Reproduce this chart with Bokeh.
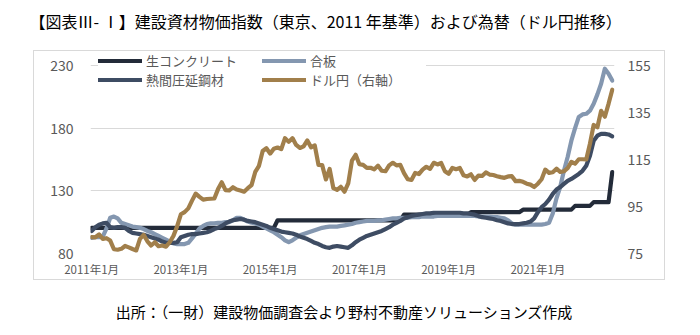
from bokeh.plotting import figure
from bokeh.layouts import column, row
from bokeh.models import (Range1d, LinearAxis, FixedTicker, Legend, LegendItem,
                          Label, Spacer)
from bokeh.embed import file_html
from bokeh.resources import INLINE

FONT = "Noto Sans CJK JP"

title_text = "【図表Ⅲ- Ⅰ】建設資材物価指数（東京、2011 年基準）および為替（ドル円推移）"
source_text = "出所：（一財）建設物価調査会より野村不動産ソリューションズ作成"

series_names = ["生コンクリート", "合板", "熱間圧延鋼材", "ドル円（右軸）"]

tick_months = [0, 24, 48, 72, 96, 120]
tick_labels = ["2011年1月", "2013年1月", "2015年1月", "2017年1月", "2019年1月", "2021年1月"]
left_ticks = [80, 130, 180, 230]
right_ticks = [75, 95, 115, 135, 155]

# monthly, 2011-01 .. 2022-09
concrete = [
    100.5, 100.5, 100.5, 100.5, 100.5, 100.5, 100.5, 100.5, 100.5, 100.5, 100.5, 100.5,
    100.5, 100.5, 100.5, 100.5, 100.5, 100.5, 100.5, 100.5, 100.5, 100.5, 100.5, 100.5,
    100.5, 100.5, 100.5, 100.5, 100.5, 100.5, 100.5, 100.5, 100.5, 100.5, 100.5, 100.5,
    100.5, 100.5, 100.5, 100.5, 100.5, 100.5, 100.5, 100.5, 100.5, 100.5, 100.5, 100.5,
    100.5, 100.5, 106.5, 106.5, 106.5, 106.5, 106.5, 106.5, 106.5, 106.5, 106.5, 106.5,
    106.5, 106.5, 106.5, 106.5, 106.5, 106.5, 106.5, 106.5, 106.5, 106.5, 106.5, 106.5,
    106.5, 106.5, 106.5, 106.5, 106.5, 106.5, 106.5, 106.5, 106.5, 106.5, 106.5, 106.5,
    111, 111, 111, 111, 111, 111, 111, 111, 111, 111, 111, 111,
    111, 111, 111, 111, 111, 111, 113, 113, 113, 113, 113, 113,
    113, 113, 113, 113, 113, 113, 113, 113, 115, 115, 115, 115,
    115, 115, 115, 115, 115, 115, 115, 115, 115, 115, 118, 118,
    118, 118, 118, 121, 121, 121, 121, 121, 145,
]

plywood = [
    92.5, 93, 93, 93.5, 100, 108.5, 109.5, 108, 104.5, 103.5, 102.5, 101.5,
    101, 100.5, 99.5, 98, 97, 95.5, 94, 92.5, 91, 89.5, 88, 87.5,
    87.5, 87.5, 88.5, 92, 96, 100, 102, 103.5, 104, 104, 104.5, 104.5,
    105, 105, 106.5, 108.5, 108.5, 107, 105.5, 104.5, 104, 103, 101.5, 100,
    98.5, 97, 95, 93, 90.5, 89, 90.5, 92.5, 94.5, 95.5, 96.5, 97.5,
    98.5, 99.5, 100.5, 101, 101.5, 101.5, 101.5, 102, 102.5, 103, 103.5, 104.5,
    105, 105.5, 106, 106, 106, 106.5, 106.5, 107, 107.5, 108, 108, 108.5,
    108.5, 108.5, 109, 109, 109, 109.5, 109.5, 109.5, 109.5, 110, 110, 110,
    110, 110, 110, 110, 110, 110, 110, 110, 109.5, 109.5, 109.5, 109.5,
    109, 109, 108.5, 108, 106.5, 104, 103, 103, 103, 103, 103, 103,
    103, 103, 103.5, 104.5, 112, 124, 133, 146, 157, 170, 180, 189,
    191, 191.5, 194, 199.5, 207, 215.5, 227.5, 223.5, 218,
]

steel = [
    98, 101, 103, 104, 104.5, 101, 100.5, 101, 101, 100.5, 98, 96.5,
    96, 95.5, 95, 94, 93, 92, 91, 89.5, 88.5, 88.5, 88.5, 89,
    93, 94, 95, 95.5, 95.5, 96, 96.5, 97, 98, 99.5, 100.5, 102,
    104, 105.5, 106.5, 107, 107.5, 107, 106, 105.5, 105, 104, 103, 102,
    100.5, 99.5, 98.5, 97.5, 97, 96.5, 96, 95, 93.5, 92.5, 91.5, 90,
    88.5, 87.5, 86, 85, 84.5, 85.5, 86, 85.5, 85, 84.5, 86.5, 89,
    91, 92.5, 94, 95, 96, 97, 98, 99.5, 101, 103, 104.5, 106,
    108, 109, 110, 110.5, 111, 111.5, 112, 112, 112.5, 112.5, 112.5, 112.5,
    112.5, 112.5, 112.5, 112.5, 112, 112, 111.5, 111, 110, 109, 108.5, 108,
    107.5, 106.5, 106, 105, 104, 103.5, 103.5, 103.5, 104, 104.5, 105.5, 108,
    113, 117, 119.5, 123, 127.5, 131, 133, 135.5, 138, 139.5, 141.5, 143.5,
    146, 150, 158, 170, 174, 175.5, 175.5, 175, 173.5,
]

usdjpy = [
    82.0, 81.9, 83.1, 81.2, 81.5, 80.5, 76.8, 76.6, 77.0, 78.2, 77.6, 76.9,
    76.3, 81.2, 82.9, 80.2, 78.4, 79.8, 78.1, 78.4, 77.9, 79.8, 82.5, 86.6,
    91.7, 92.6, 94.2, 97.5, 100.5, 99.1, 97.9, 98.2, 98.3, 98.4, 102.4, 105.3,
    102.0, 101.8, 103.2, 102.2, 101.8, 101.3, 102.8, 104.1, 109.7, 112.3, 118.6, 119.8,
    117.5, 119.6, 120.1, 119.4, 124.1, 122.5, 124.1, 121.2, 119.9, 120.6, 123.1, 120.2,
    121.0, 112.7, 112.6, 106.5, 111.0, 102.8, 102.1, 103.4, 101.3, 104.8, 114.5, 117.0,
    113.0, 112.7, 111.4, 111.5, 110.8, 112.4, 110.2, 110.0, 112.5, 113.6, 112.5, 112.7,
    109.2, 106.6, 106.3, 109.3, 108.8, 110.7, 111.9, 111.0, 113.6, 112.9, 113.5, 110.0,
    108.9, 111.4, 110.9, 111.4, 108.3, 107.8, 108.7, 106.3, 108.1, 108.0, 109.5, 108.6,
    108.4, 107.9, 107.5, 107.2, 107.8, 107.9, 105.8, 105.9, 105.5, 104.7, 104.3, 103.3,
    104.7, 106.6, 110.7, 109.3, 109.6, 111.1, 109.7, 110.0, 111.3, 114.0, 113.2, 115.1,
    115.1, 115.0, 121.7, 129.7, 128.7, 135.7, 133.2, 138.7, 144.7,
]

months = list(range(len(usdjpy)))

colors = ["#232B39", "#8497B0", "#3E4C63", "#A17F4B"]


def text_strip(height, label):
    f = figure(width=700, height=height, output_backend="svg", toolbar_location=None,
               x_axis_type=None, y_axis_type=None,
               x_range=Range1d(0, 700), y_range=Range1d(0, height),
               min_border=0)
    f.outline_line_color = None
    f.grid.visible = False
    f.add_layout(label)
    return f


top = text_strip(50, Label(x=29, y=30, x_units="screen", y_units="screen", text=title_text,
                           text_font=FONT, text_font_size="16px", text_color="#000000",
                           text_baseline="middle", text_align="left"))
bottom = text_strip(51, Label(x=344, y=22, x_units="screen", y_units="screen", text=source_text,
                              text_font=FONT, text_font_size="15px", text_color="#000000",
                              text_baseline="middle", text_align="center"))

# main chart: page x 34..666, y 51..281 ; frame page x 90..614, y 51..253
p = figure(width=632, height=230, output_backend="svg", toolbar_location=None,
           x_range=Range1d(-0.3, 140.6), y_range=Range1d(80, 241.2),
           min_border_left=56, min_border_right=52, min_border_top=0,
           min_border_bottom=28)
p.extra_y_ranges = {"usd": Range1d(75, 160.96)}
p.outline_line_color = None
p.background_fill_color = "white"
p.border_fill_color = "white"
p.styles = {"border": "1px solid #D9D9D9"}

xa = p.xaxis[0]
xa.ticker = FixedTicker(ticks=tick_months)
xa.major_label_overrides = {m: t for m, t in zip(tick_months, tick_labels)}
ya = p.yaxis[0]
ya.ticker = FixedTicker(ticks=left_ticks)
ra = LinearAxis(y_range_name="usd", ticker=FixedTicker(ticks=right_ticks))
p.add_layout(ra, "right")

for ax in (xa, ya, ra):
    ax.axis_line_color = None
    ax.major_tick_line_color = None
    ax.minor_tick_line_color = None
    ax.major_tick_out = 0
    ax.major_tick_in = 0
    ax.major_label_text_color = "#595959"
    ax.major_label_text_font = FONT
xa.major_label_text_font_size = "11.5px"
xa.major_label_standoff = 7
ya.major_label_text_font_size = "14px"
ya.major_label_standoff = 17
ra.major_label_text_font_size = "14px"
ra.major_label_standoff = 13

p.xgrid.visible = False
p.ygrid.grid_line_color = "#D9D9D9"
p.ygrid.grid_line_width = 1.2

r1 = p.line(months, concrete, line_color=colors[0], line_width=4.2, line_join="round", line_cap="round")
r2 = p.line(months, plywood, line_color=colors[1], line_width=4.2, line_join="round", line_cap="round")
r3 = p.line(months, steel, line_color=colors[2], line_width=4.2, line_join="round", line_cap="round")
r4 = p.line(months, usdjpy, line_color=colors[3], line_width=4.2, line_join="round", line_cap="round",
            y_range_name="usd")

legend = Legend(items=[LegendItem(label=series_names[0], renderers=[r1]),
                       LegendItem(label=series_names[1], renderers=[r2]),
                       LegendItem(label=series_names[2], renderers=[r3]),
                       LegendItem(label=series_names[3], renderers=[r4])],
                location=(8, 164), orientation="horizontal", ncols=2)
legend.glyph_width = 44
legend.glyph_height = 15
legend.label_height = 15
legend.label_width = 116
legend.label_standoff = 4
legend.spacing = 0
legend.padding = 0
legend.margin = 0
legend.border_line_color = None
legend.background_fill_color = "white"
legend.background_fill_alpha = 1
legend.label_text_font = FONT
legend.label_text_font_size = "13px"
legend.label_text_color = "#595959"
p.add_layout(legend)

layout = column(top, row(Spacer(width=33, height=232), p), bottom)

open("out.html", "w").write(file_html(layout, INLINE))
